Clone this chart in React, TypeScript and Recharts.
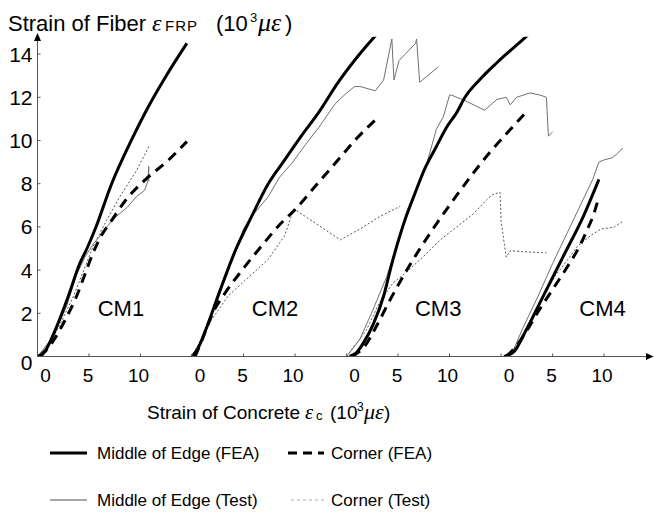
import React from "react"
import { LineChart, Line, XAxis, YAxis, ReferenceDot } from "recharts"

// strain of concrete vs strain of FRP, both in 10^3 microstrain
type Pt = [number, number]

const specimens = ["CM1", "CM2", "CM3", "CM4"]
const panelShift = 15 // each specimen is drawn 15 units to the right of the previous one

const cm1MidFea: Pt[] = [[0, 0], [0.8, 0.3], [1.7, 1.2], [3.0, 2.8], [4.1, 4.3], [4.8, 5.0], [5.6, 5.9], [7.2, 8.0], [9.0, 9.9], [10.8, 11.6], [12.5, 13.0], [14.5, 14.5]]
const cm1CornerFea: Pt[] = [[0.3, 0], [1.5, 0.7], [2.8, 1.8], [3.8, 2.8], [4.6, 3.8], [5.4, 4.8], [6.2, 5.6], [7.2, 6.3], [8.5, 7.2], [10.5, 8.2], [12.5, 9.0], [14.5, 9.95]]
const cm1MidTest: Pt[] = [[0, 0], [1.5, 0.9], [2.8, 2.3], [3.8, 3.8], [4.6, 4.6], [5.4, 5.2], [6.1, 5.6], [6.7, 6.0], [7.7, 6.5], [8.7, 6.9], [9.6, 7.4], [10.4, 7.7], [10.7, 8.1], [10.8, 8.8], [10.8, 8.1]]
const cm1CornerTest: Pt[] = [[0.2, 0], [0.7, 0.15], [2.2, 1.5], [3.5, 2.8], [4.5, 4.0], [5.4, 5.1], [6.7, 6.3], [8.0, 7.4], [9.6, 8.6], [10.9, 9.8]]

const cm2MidFea: Pt[] = [[0, 0], [0.6, 0.4], [1.3, 1.2], [2.6, 2.9], [4.2, 4.9], [5.8, 6.5], [7.4, 8.0], [9.0, 9.1], [10.6, 10.2], [12.3, 11.3], [14.2, 12.7], [16.1, 13.9], [17.9, 14.9]]
const cm2CornerFea: Pt[] = [[0.3, 0], [1.0, 0.8], [2.0, 2.0], [3.3, 3.0], [4.7, 3.9], [6.9, 5.2], [8.5, 6.1], [10, 6.8], [12, 7.9], [14, 9.0], [16, 10.1], [17.9, 11.0]]
const cm2MidTest: Pt[] = [[0, 0], [1.3, 1.1], [2.6, 2.8], [4.2, 4.8], [5.0, 5.9], [6.0, 6.6], [7.4, 7.4], [8.5, 8.3], [9.7, 8.95], [11.0, 9.8], [12.3, 10.6], [13.9, 11.7], [15.0, 12.2], [15.8, 12.5], [16.3, 12.5], [17.8, 12.3], [18.6, 12.8], [19.4, 14.7], [19.6, 12.8], [20.1, 13.7], [21.7, 14.5], [21.8, 14.7], [22.1, 12.7], [23.9, 13.4]]
const cm2CornerTest: Pt[] = [[0, 0], [1.0, 0.9], [1.9, 1.7], [3.5, 2.8], [5.1, 3.5], [7.4, 4.5], [9.0, 5.6], [9.7, 6.6], [10.0, 6.8], [14.4, 5.4], [16.3, 5.9], [18.3, 6.5], [20.2, 6.95]]

const cm3MidFea: Pt[] = [[0.3, 0], [1.0, 0.2], [1.6, 0.6], [2.6, 1.5], [3.6, 2.8], [4.4, 4.3], [5.8, 6.5], [6.6, 7.5], [7.6, 8.7], [8.7, 9.7], [9.7, 10.6], [10.7, 11.3], [11.5, 12.0], [12.9, 12.8], [14.6, 13.6], [16.7, 14.5], [17.9, 15.0]]
const cm3CornerFea: Pt[] = [[0.5, 0], [1.8, 0.5], [2.9, 1.4], [4.2, 2.6], [6.1, 4.2], [8.1, 5.7], [10, 7.0], [12, 8.3], [14, 9.5], [15.5, 10.3], [17.6, 11.4]]
const cm3MidTest: Pt[] = [[0, 0], [1.3, 0.8], [2.6, 2.2], [3.9, 3.7], [5.2, 5.6], [6.5, 7.4], [7.8, 8.95], [8.3, 9.8], [8.7, 10.5], [9.4, 11.1], [10.0, 12.1], [10.2, 12.1], [11.7, 11.8], [13.4, 11.4], [14.6, 11.9], [15.5, 12.0], [15.9, 11.65], [16.5, 12.0], [17.8, 12.2], [18.8, 12.1], [19.4, 12.0], [19.6, 10.2], [20.0, 10.4]]
const cm3CornerTest: Pt[] = [[0, 0], [1.9, 1.2], [3.2, 2.5], [4.5, 3.4], [5.8, 3.9], [7.4, 4.6], [9.1, 5.4], [10.7, 6.0], [12.3, 6.6], [13.6, 7.25], [14.2, 7.5], [14.9, 7.6], [15.0, 6.3], [15.2, 5.6], [15.5, 4.6], [15.9, 4.9], [17.1, 4.85], [19.4, 4.8]]

const cm4MidFea: Pt[] = [[0.3, 0], [1.3, 0.25], [2.3, 1.1], [4.0, 2.7], [6.0, 4.6], [8.0, 6.5], [9.5, 8.2]]
const cm4CornerFea: Pt[] = [[0.5, 0], [1.5, 0.5], [2.5, 1.2], [3.5, 2.0], [5.0, 3.1], [6.5, 4.2], [7.5, 5.0], [8.3, 5.8], [9.0, 6.6], [9.5, 7.4]]
const cm4MidTest: Pt[] = [[0.2, 0], [1.2, 0.3], [2.1, 1.3], [3.6, 2.8], [5.0, 4.3], [6.6, 5.9], [8.1, 7.4], [8.9, 8.2], [9.5, 9.0], [10.0, 9.1], [10.8, 9.2], [11.3, 9.4], [11.8, 9.65]]
const cm4CornerTest: Pt[] = [[0.3, 0], [1.5, 0.4], [3.0, 1.7], [4.2, 2.9], [5.2, 3.7], [6.5, 4.5], [7.4, 5.1], [8.7, 5.6], [9.7, 5.9], [10.5, 5.95], [11.0, 6.0], [11.8, 6.25]]

const xTickLabels = [0, 5, 10]
const yTicks = [0, 2, 4, 6, 8, 10, 12, 14]

// where the CM labels sit, in local panel coordinates
const labelX = [8.1, 8.06, 8.9, 9.85]
const labelY = 2.22

const SANS = "'Liberation Sans', Arial, sans-serif"
const SERIF = "'Liberation Serif', 'Times New Roman', serif"
const AXIS = "#555"

const series = [
  { name: "Corner (Test)", sets: [cm1CornerTest, cm2CornerTest, cm3CornerTest, cm4CornerTest], stroke: "#555", width: 1, dash: "2 2", type: "linear" },
  { name: "Middle of Edge (Test)", sets: [cm1MidTest, cm2MidTest, cm3MidTest, cm4MidTest], stroke: "#707070", width: 1, dash: undefined, type: "linear" },
  { name: "Corner (FEA)", sets: [cm1CornerFea, cm2CornerFea, cm3CornerFea, cm4CornerFea], stroke: "#000", width: 3, dash: "10 7", type: "monotone" },
  { name: "Middle of Edge (FEA)", sets: [cm1MidFea, cm2MidFea, cm3MidFea, cm4MidFea], stroke: "#000", width: 3, dash: undefined, type: "monotone" },
]

const toRows = (pts: Pt[], panel: number) =>
  pts.map(([x, y]) => ({ x: x + panel * panelShift, y }))

const xTicks = specimens.flatMap((_, i) => xTickLabels.map((t) => t + i * panelShift))

function XTick({ x, y, payload }: any) {
  const local = Math.round(payload.value % panelShift)
  const nudge = local === 0 ? 8 : local === 5 ? -1 : -2
  return (
    <g>
      <line x1={x} x2={x} y1={y} y2={y - 3} stroke={AXIS} />
      <text x={x + nudge} y={y + 25} textAnchor="middle" fontSize={19} fontFamily={SANS} fill="#000">
        {local}
      </text>
    </g>
  )
}

function YTick({ x, y, payload }: any) {
  const v = payload.value
  return (
    <g>
      <line x1={x} x2={x + 3} y1={y} y2={y} stroke={AXIS} />
      <text x={x - 5} y={y + 7.5 + (v === 0 ? 6 : 0)} textAnchor="end" fontSize={21} fontFamily={SANS} fill="#000">
        {v}
      </text>
    </g>
  )
}

export default function App() {
  return (
    <div style={{ position: "absolute", left: 0, top: 0, width: 654, height: 513, background: "#fff" }}>
      <LineChart width={654} height={513} margin={{ top: 36.8, right: 1, bottom: 126.5, left: 0.5 }}>
        <XAxis
          dataKey="x"
          type="number"
          domain={[0, 59.75]}
          ticks={xTicks}
          interval={0}
          tickLine={false}
          tickSize={0}
          tickMargin={0}
          tick={XTick}
          height={30}
          axisLine={{ stroke: AXIS }}
          allowDuplicatedCategory={false}
        />
        <YAxis
          type="number"
          domain={[0, 14.8]}
          allowDataOverflow
          ticks={yTicks}
          interval={0}
          tickLine={false}
          tickSize={0}
          tickMargin={0}
          tick={YTick}
          width={37}
          axisLine={{ stroke: AXIS }}
        />
        {series.flatMap((s) =>
          s.sets.map((pts, i) => (
            <Line
              key={s.name + i}
              data={toRows(pts, i)}
              dataKey="y"
              type={s.type as any}
              stroke={s.stroke}
              strokeWidth={s.width}
              strokeDasharray={s.dash}
              dot={false}
              activeDot={false}
              isAnimationActive={false}
            />
          ))
        )}
        {specimens.map((name, i) => (
          <ReferenceDot
            key={name}
            x={labelX[i] + i * panelShift}
            y={labelY}
            r={1}
            fill="none"
            stroke="none"
            label={{ value: name, position: "center", fontSize: 22, fontFamily: SANS, fill: "#000" }}
          />
        ))}
      </LineChart>

      <svg width={654} height={513} style={{ position: "absolute", left: 0, top: 0, pointerEvents: "none" }}>
        {/* axis arrows */}
        <polygon points="37.5,33 34,41 41,41" fill="#000" />
        <polygon points="653.5,356.5 646,353 646,360" fill="#000" />

        {/* y axis title */}
        <text y={31} fontSize={22} fontFamily={SANS} fill="#000">
          <tspan x={8}>Strain of Fiber</tspan>
          <tspan x={152} fontFamily={SERIF} fontStyle="italic" fontSize={24}>ε</tspan>
          <tspan x={165} fontSize={15} letterSpacing={1}>FRP</tspan>
          <tspan x={216}>(10</tspan>
          <tspan x={250} dy={-9} fontSize={13}>3</tspan>
          <tspan x={258} dy={9} fontFamily={SERIF} fontStyle="italic" fontSize={26}>με</tspan>
          <tspan x={285}>)</tspan>
        </text>

        {/* x axis title */}
        <text y={419} fontSize={19} fontFamily={SANS} fill="#000">
          <tspan x={147}>Strain of Concrete</tspan>
          <tspan x={305} fontFamily={SERIF} fontStyle="italic" fontSize={21}>ε</tspan>
          <tspan x={316} dy={1} fontSize={13}>c</tspan>
          <tspan x={330} dy={-1}>(10</tspan>
          <tspan x={357} dy={-8} fontSize={12}>3</tspan>
          <tspan x={364} dy={8} fontFamily={SERIF} fontStyle="italic" fontSize={22}>με</tspan>
          <tspan x={384}>)</tspan>
        </text>

        {/* legend */}
        <g fontSize={17} fontFamily={SANS} fill="#000">
          <line x1={50} x2={87} y1={453} y2={453} stroke="#000" strokeWidth={3} />
          <text x={97} y={459}>{series[3].name}</text>
          <line x1={288} x2={324} y1={453} y2={453} stroke="#000" strokeWidth={3} strokeDasharray="9 6" />
          <text x={331} y={459}>{series[2].name}</text>
          <line x1={50} x2={87} y1={500} y2={500} stroke="#888" strokeWidth={1.5} />
          <text x={97} y={506}>{series[1].name}</text>
          <line x1={291} x2={324} y1={500} y2={500} stroke="#aaa" strokeWidth={1} strokeDasharray="3 3" />
          <text x={331} y={506}>{series[0].name}</text>
        </g>
      </svg>
    </div>
  )
}
